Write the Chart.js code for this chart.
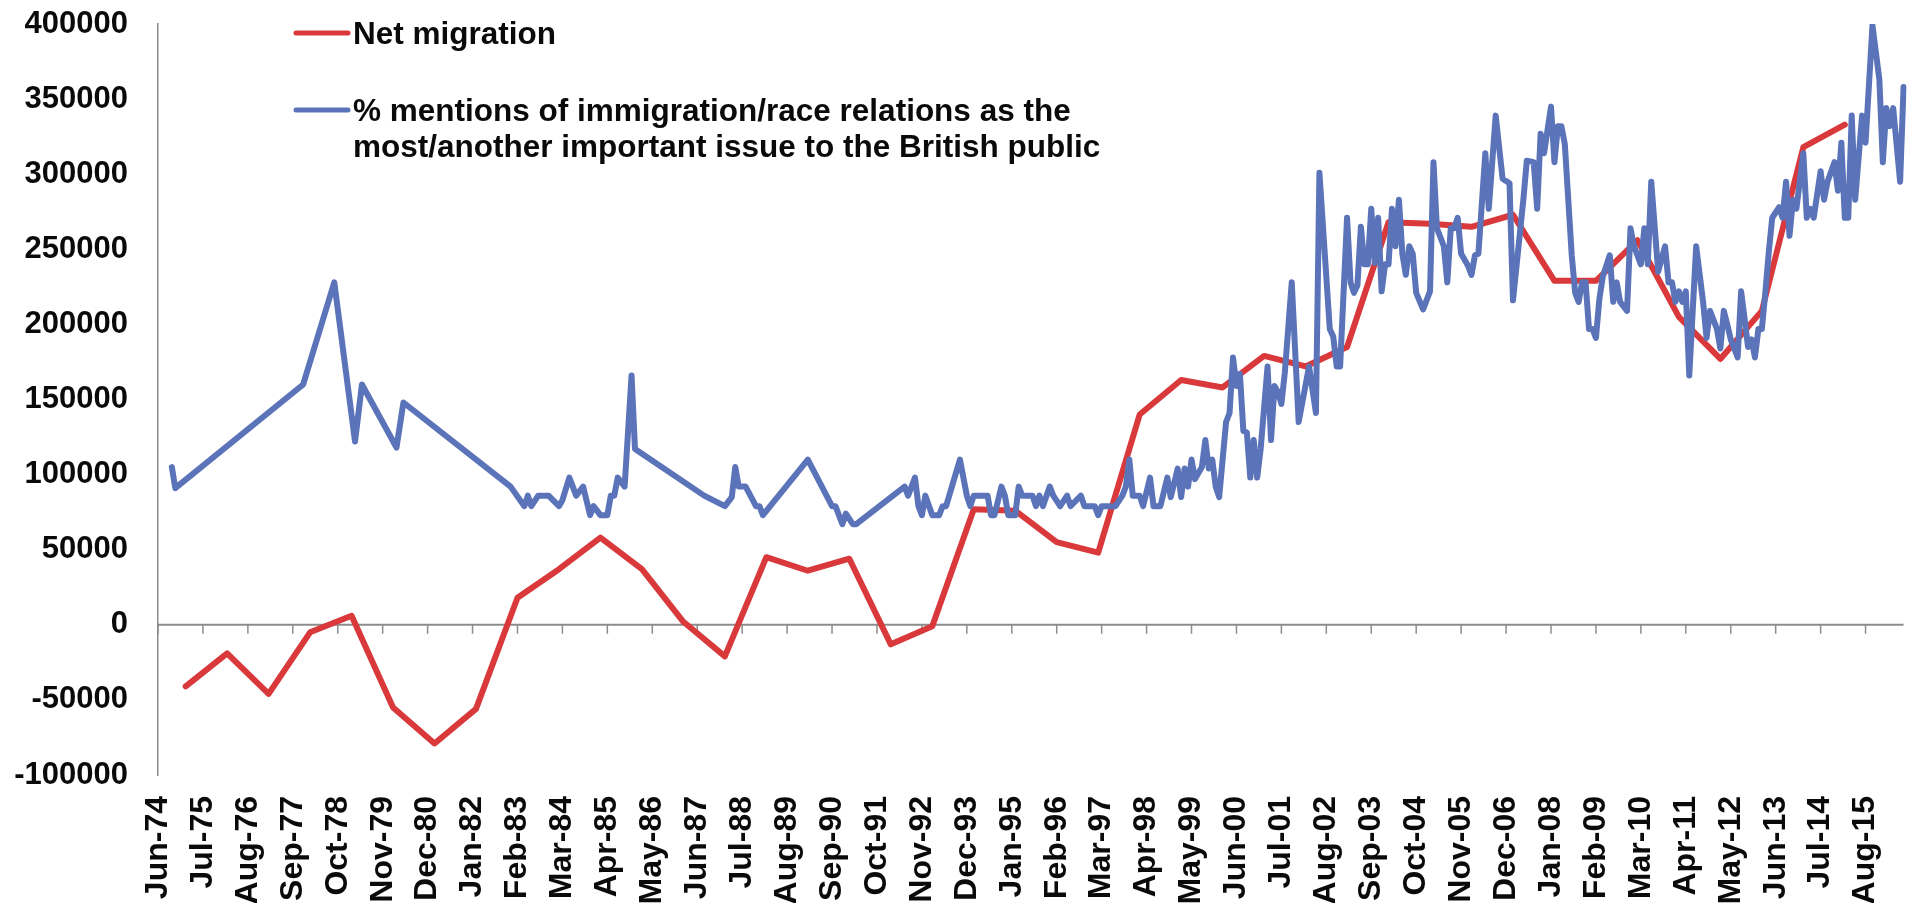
<!DOCTYPE html>
<html>
<head>
<meta charset="utf-8">
<script src="https://cdn.jsdelivr.net/npm/chart.js@4.4.1/dist/chart.umd.min.js"></script>
<style>
html,body{margin:0;padding:0;background:#ffffff;}
#wrap{width:1925px;height:903px;position:relative;}
canvas{display:block;}
</style>
</head>
<body>
<div id="wrap"><canvas id="chart" width="1925" height="903"></canvas></div>
<script>
// ---------- DATA ----------
const MONTHS = ['Jan','Feb','Mar','Apr','May','Jun','Jul','Aug','Sep','Oct','Nov','Dec'];
const firstCategory = 'Jun-74';
const lastCategory = 'Jul-16';

// tick labels shown on the category axis (every 13 months)
const tickLabels = ['Jun-74','Jul-75','Aug-76','Sep-77','Oct-78','Nov-79','Dec-80','Jan-82','Feb-83','Mar-84',
  'Apr-85','May-86','Jun-87','Jul-88','Aug-89','Sep-90','Oct-91','Nov-92','Dec-93','Jan-95','Feb-96','Mar-97',
  'Apr-98','May-99','Jun-00','Jul-01','Aug-02','Sep-03','Oct-04','Nov-05','Dec-06','Jan-08','Feb-09','Mar-10',
  'Apr-11','May-12','Jun-13','Jul-14','Aug-15'];

const yTicks = [-100000, -50000, 0, 50000, 100000, 150000, 200000, 250000, 300000, 350000, 400000];

// Net migration (annual)
const netMigrationDates = ['Feb-75','Feb-76','Feb-77','Feb-78','Feb-79','Feb-80','Feb-81','Feb-82','Feb-83','Feb-84',
  'Feb-85','Feb-86','Feb-87','Feb-88','Feb-89','Feb-90','Feb-91','Feb-92','Feb-93','Feb-94','Feb-95','Feb-96',
  'Feb-97','Feb-98','Feb-99','Feb-00','Feb-01','Feb-02','Feb-03','Feb-04','Feb-05','Feb-06','Feb-07','Feb-08',
  'Feb-09','Feb-10','Feb-11','Feb-12','Feb-13','Feb-14','Feb-15'];
const netMigrationValues = [-41000,-19000,-46000,-5000,6000,-55000,-79000,-56000,18000,37000,
  58000,37000,2000,-21000,45000,36000,44000,-13000,-1000,77000,76000,55000,
  48000,140000,163000,158000,179000,172000,185000,268000,267000,265000,273000,229000,
  229000,256000,205000,177000,209000,318000,333000];

// % mentions of immigration/race relations (scaled to the same axis)
const mentionsDates = ['Oct-74','Nov-74','Dec-77','Sep-78','Mar-79','May-79','Mar-80','May-80','Dec-82','Apr-83',
  'May-83','Jun-83','Aug-83','Nov-83','Feb-84','Mar-84','May-84','Jul-84','Sep-84','Nov-84','Dec-84','Feb-85',
  'Apr-85','May-85','Jun-85','Jul-85','Sep-85','Nov-85','Dec-85','Aug-87','Feb-88','Apr-88','May-88','Jun-88',
  'Aug-88','Nov-88','Dec-88','Jan-89','Feb-90','Sep-90','Oct-90','Dec-90','Jan-91','Mar-91','Apr-91','Jun-92',
  'Jul-92','Sep-92','Oct-92','Nov-92','Dec-92','Feb-93','Apr-93','May-93','Jun-93','Oct-93','Dec-93','Jan-94',
  'Feb-94','Jun-94','Jul-94','Aug-94','Oct-94','Nov-94','Dec-94','Feb-95','Mar-95','Apr-95','Jul-95','Aug-95',
  'Sep-95','Oct-95','Dec-95','Jan-96','Mar-96','May-96','Jun-96','Sep-96','Oct-96','Jan-97','Feb-97','Mar-97',
  'Jul-97','Sep-97','Oct-97','Nov-97','Dec-97','Feb-98','Mar-98','May-98','Jun-98','Aug-98','Oct-98','Nov-98',
  'Jan-99','Feb-99','Mar-99','Apr-99','May-99','Jun-99','Aug-99','Sep-99','Oct-99','Nov-99','Dec-99','Jan-00',
  'Mar-00','Apr-00','May-00','Jun-00','Jul-00','Aug-00','Sep-00','Oct-00','Nov-00','Dec-00','Jan-01','Mar-01',
  'Apr-01','May-01','Jun-01','Jul-01','Aug-01','Oct-01','Dec-01','Mar-02','May-02','Jun-02','Sep-02','Oct-02',
  'Nov-02','Dec-02','Feb-03','Mar-03','Apr-03','May-03','Jun-03','Jul-03','Aug-03','Sep-03','Oct-03','Nov-03',
  'Dec-03','Jan-04','Feb-04','Mar-04','Apr-04','May-04','Jun-04','Jul-04','Aug-04','Sep-04','Oct-04','Dec-04',
  'Feb-05','Mar-05','Apr-05','Jun-05','Jul-05','Aug-05','Sep-05','Oct-05','Nov-05','Jan-06','Feb-06','Mar-06',
  'Apr-06','Jun-06','Jul-06','Sep-06','Nov-06','Jan-07','Feb-07','May-07','Jun-07','Aug-07','Sep-07','Oct-07',
  'Nov-07','Jan-08','Feb-08','Mar-08','Apr-08','May-08','Jul-08','Aug-08','Sep-08','Oct-08','Nov-08','Dec-08',
  'Jan-09','Feb-09','Mar-09','Apr-09','Jun-09','Jul-09','Aug-09','Sep-09','Nov-09','Dec-09','Jan-10','Mar-10',
  'Apr-10','May-10','Jun-10','Aug-10','Oct-10','Nov-10','Dec-10','Jan-11','Feb-11','Mar-11','Apr-11','May-11',
  'Jul-11','Sep-11','Oct-11','Nov-11','Jan-12','Feb-12','Mar-12','Apr-12','May-12','Jun-12','Jul-12','Aug-12',
  'Sep-12','Oct-12','Nov-12','Dec-12','Jan-13','Feb-13','Mar-13','Apr-13','May-13','Jul-13','Aug-13','Sep-13',
  'Oct-13','Nov-13','Dec-13','Feb-14','Mar-14','Apr-14','May-14','Jul-14','Aug-14','Sep-14','Nov-14','Dec-14',
  'Jan-15','Feb-15','Mar-15','Apr-15','May-15','Jul-15','Aug-15','Oct-15','Dec-15','Jan-16','Feb-16','Mar-16',
  'Apr-16','Jun-16','Jul-16'];
const mentionsValues = [105000,91000,160000,228000,122000,160000,118000,148000,92000,79000,
  86000,79000,86000,86000,79000,83000,98000,86000,92000,73000,79000,73000,
  73000,86000,86000,98000,92000,166000,117000,86000,79000,85000,105000,92000,
  92000,79000,79000,73000,110000,79000,79000,67000,74000,67000,67000,92000,
  86000,98000,79000,73000,86000,73000,73000,79000,79000,110000,86000,79000,
  86000,86000,73000,73000,92000,86000,73000,73000,92000,86000,86000,79000,
  86000,79000,92000,86000,79000,86000,79000,86000,79000,79000,73000,79000,
  79000,86000,92000,110000,86000,86000,79000,98000,79000,79000,98000,85000,
  104000,85000,104000,92000,110000,97000,105000,123000,104000,110000,92000,85000,
  135000,141000,178000,159000,167000,129000,128000,98000,123000,98000,117000,172000,
  123000,159000,155000,147000,168000,228000,135000,172000,141000,301000,197000,192000,
  172000,172000,271000,228000,221000,226000,265000,240000,240000,277000,241000,271000,
  222000,240000,240000,277000,252000,283000,247000,233000,252000,247000,221000,210000,
  222000,308000,264000,252000,228000,264000,264000,271000,247000,239000,233000,246000,
  247000,314000,277000,339000,297000,294000,216000,283000,309000,308000,277000,327000,
  314000,345000,308000,332000,332000,320000,246000,221000,215000,228000,228000,197000,
  197000,191000,217000,232000,246000,215000,228000,215000,209000,264000,252000,240000,
  264000,240000,295000,235000,252000,228000,228000,215000,222000,215000,222000,166000,
  252000,215000,191000,209000,197000,184000,209000,200000,190000,184000,178000,222000,
  204000,185000,190000,178000,197000,197000,221000,248000,271000,278000,271000,295000,
  259000,283000,277000,314000,271000,277000,271000,302000,283000,295000,308000,289000,
  321000,271000,271000,339000,283000,339000,321000,399000,363000,308000,344000,332000,
  344000,295000,358000];

// monthly categories from firstCategory to lastCategory
const categories = [];
(function buildCategories(){
  let mi = MONTHS.indexOf(firstCategory.slice(0,3));
  let yr = parseInt(firstCategory.slice(4), 10);
  while (true) {
    const lab = MONTHS[mi] + '-' + String(yr).padStart(2,'0');
    categories.push(lab);
    if (lab === lastCategory) break;
    mi++; if (mi === 12) { mi = 0; yr = (yr + 1) % 100; }
  }
})();

const legendItems = [
  { lines: ['Net migration'], color: '#D9393B' },
  { lines: ['% mentions of immigration/race relations as the', 'most/another important issue to the British public'], color: '#5B74B9' }
];

// ---------- STYLE ----------
const FONT_FAMILY = '"Liberation Sans", Arial, Helvetica, sans-serif';
const TEXT_COLOR = '#0a0a0a';
const AXIS_COLOR = '#8c8c8c';

const zeroLinePlugin = {
  id: 'zeroLine',
  beforeDatasetsDraw(chart) {
    const { ctx, chartArea, scales } = chart;
    const y0 = scales.y.getPixelForValue(0);
    ctx.save();
    ctx.strokeStyle = AXIS_COLOR;
    ctx.lineWidth = 2;
    ctx.beginPath();
    ctx.moveTo(chartArea.left, y0);
    ctx.lineTo(chartArea.right, y0);
    ctx.stroke();
    ctx.lineWidth = 1.5;
    ctx.beginPath();
    tickLabels.forEach(l => {
      const x = scales.x.getPixelForValue(categories.indexOf(l));
      ctx.moveTo(x, y0);
      ctx.lineTo(x, y0 + 9);
    });
    ctx.stroke();
    ctx.restore();
  }
};

const legendPlugin = {
  id: 'customLegend',
  afterDraw(chart, args, opts) {
    const { ctx } = chart;
    ctx.save();
    ctx.font = 'bold ' + opts.fontSize + 'px ' + FONT_FAMILY;
    ctx.fillStyle = TEXT_COLOR;
    ctx.textBaseline = 'alphabetic';
    ctx.textAlign = 'left';
    legendItems.forEach((item, i) => {
      const yLine = opts.rowY[i];
      ctx.strokeStyle = item.color;
      ctx.lineWidth = opts.sampleWidth;
      ctx.lineCap = 'round';
      ctx.beginPath();
      ctx.moveTo(opts.sampleX0, yLine);
      ctx.lineTo(opts.sampleX1, yLine);
      ctx.stroke();
      item.lines.forEach((t, j) => {
        ctx.fillText(t, opts.textX, yLine + opts.baselineOffset + j * opts.lineGap);
      });
    });
    ctx.restore();
  }
};

const ctx = document.getElementById('chart').getContext('2d');
new Chart(ctx, {
  type: 'line',
  data: {
    labels: categories,
    datasets: [
      {
        label: legendItems[1].lines.join(' '),
        data: mentionsDates.map((d, i) => ({ x: d, y: mentionsValues[i] })),
        borderColor: legendItems[1].color,
        borderWidth: 6,
        pointRadius: 0,
        tension: 0,
        fill: false,
        borderJoinStyle: 'round',
        borderCapStyle: 'round',
        order: 0
      },
      {
        label: legendItems[0].lines[0],
        data: netMigrationDates.map((d, i) => ({ x: d, y: netMigrationValues[i] })),
        borderColor: legendItems[0].color,
        borderWidth: 6,
        pointRadius: 0,
        tension: 0,
        fill: false,
        borderJoinStyle: 'round',
        borderCapStyle: 'round',
        order: 1
      }
    ]
  },
  options: {
    responsive: false,
    animation: false,
    devicePixelRatio: 1,
    layout: { padding: { top: 24, right: 2.5, left: 0, bottom: 0 } },
    plugins: {
      legend: { display: false },
      tooltip: { enabled: false },
      customLegend: {
        fontSize: 31.5,
        sampleX0: 296, sampleX1: 348, sampleWidth: 5,
        textX: 353,
        rowY: [33, 110],
        baselineOffset: 10.5,
        lineGap: 36
      }
    },
    scales: {
      x: {
        type: 'category',
        offset: false,
        grid: { display: false, drawTicks: false },
        border: { display: false },
        ticks: {
          autoSkip: false,
          minRotation: 90,
          maxRotation: 90,
          padding: 21,
          color: TEXT_COLOR,
          font: { family: FONT_FAMILY, size: 32, weight: 'bold' },
          callback: function (value) {
            const l = categories[value];
            return tickLabels.includes(l) ? l : null;
          }
        },
        afterFit(scale) { scale.height = 128; }
      },
      y: {
        min: yTicks[0],
        max: yTicks[yTicks.length - 1],
        afterBuildTicks(scale) { scale.ticks = yTicks.map(v => ({ value: v })); },
        grid: { display: true, drawOnChartArea: false, drawTicks: true, tickLength: 30, color: 'rgba(0,0,0,0)' },
        border: { display: true, color: AXIS_COLOR, width: 1.5 },
        ticks: {
          padding: 0,
          color: TEXT_COLOR,
          font: { family: FONT_FAMILY, size: 31, weight: 'bold' },
          callback: v => String(v)
        },
        afterFit(scale) { scale.width = 158; }
      }
    }
  },
  plugins: [zeroLinePlugin, legendPlugin]
});
</script>
</body>
</html>
